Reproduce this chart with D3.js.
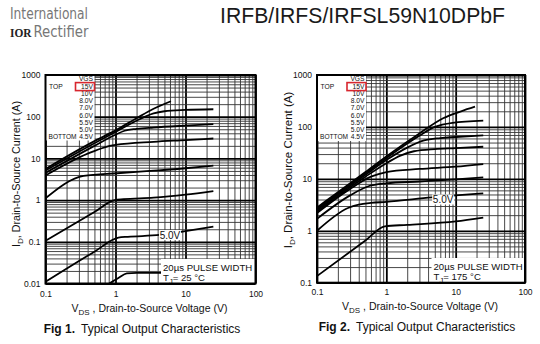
<!DOCTYPE html>
<html><head><meta charset="utf-8">
<script src="https://cdn.jsdelivr.net/npm/d3@7/dist/d3.min.js"></script>
<style>
html,body{margin:0;padding:0;background:#fff;}
svg{display:block;font-family:"Liberation Sans",Arial,sans-serif;}
</style></head><body>
<svg id="c" width="540" height="344"></svg>
<script>
// ---------- data ----------
const vgsLabels = ["15V","10V","8.0V","7.0V","6.0V","5.5V","5.0V","4.5V"];
const xTickValues = [0.1, 1, 10, 100];
const xTickLabels = ["0.1", "1", "10", "100"];
const fig1YTickValues = [0.01, 0.1, 1, 10, 100, 1000];
const fig1YTickLabels = ["0.01", "0.1", "1", "10", "100", "1000"];
const fig2YTickValues = [0.1, 1, 10, 100, 1000];
const fig2YTickLabels = ["0.1", "1", "10", "100", "1000"];

// Fig 1 (TJ = 25 °C): [VDS (V), ID (A)]
const fig1_15V = [[0.1,5.6],[0.5,26],[1,47],[2,92],[3.5,155],[6.2,235]];
const fig1_10V = [[0.1,5.1],[0.5,23],[1,43],[2,80],[3.5,120],[5,135],[10,145],[25,151]];
const fig1_8V  = [[0.1,4.5],[0.5,20],[1,37],[1.35,46],[2,51],[3.5,55],[10,61],[25,66]];
const fig1_7V  = [[0.1,3.9],[0.4,13],[0.7,18.5],[1,21],[3.5,25],[10,27.5],[25,30]];
const fig1_6V  = [[0.1,1.1],[0.35,3.8],[1.06,4.4],[3.1,5.0],[10,5.8],[25,6.7]];
const fig1_5V5 = [[0.1,0.106],[0.5,0.52],[0.97,1.0],[1.3,1.05],[3.5,1.14],[10,1.35],[25,1.65]];
const fig1_5V  = [[0.1,0.011],[0.5,0.058],[1.1,0.126],[1.5,0.132],[4.3,0.146],[10,0.18],[25,0.23]];
const fig1_4V5 = [[0.78,0.0095],[1.1,0.0135],[1.45,0.0175],[2,0.018],[4.6,0.018]];

// Fig 2 (TJ = 175 °C): [VDS (V), ID (A)]
const fig2_15V = [[0.1,2.8],[0.5,13.5],[1,27],[3,75],[6.6,147],[12,200],[19,245]];
const fig2_10V = [[0.1,2.65],[0.5,12.8],[1,25],[2,48],[3,68],[5,100],[9,120],[25,132]];
const fig2_8V  = [[0.1,2.5],[0.5,12],[1,23],[2,40],[3.5,55],[6,61],[10,64],[25,69]];
const fig2_7V  = [[0.1,2.35],[0.5,11],[1,20],[1.6,28],[2.5,34],[5,37.5],[10,39],[25,41.5]];
const fig2_6V  = [[0.1,2.2],[0.3,6.4],[0.6,11],[1,13.5],[3,15.5],[10,17.2],[25,19.3]];
const fig2_5V5 = [[0.1,1.7],[0.3,4.8],[0.55,7.2],[1,8.2],[3,8.9],[10,9.8],[25,10.7]];
const fig2_5V  = [[0.1,1.0],[0.28,2.75],[0.4,3.2],[0.6,3.45],[1,3.6],[4.5,4.4],[10,4.8],[25,5.25]];
const fig2_4V5 = [[0.1,0.134],[0.5,0.65],[0.95,1.22],[2,1.3],[10,1.52],[25,1.8]];

// ---------- drawing ----------
const svg = d3.select("#c");

function logGridValues(lo, hi) {
  const vals = [];
  const e0 = Math.round(Math.log10(lo)), e1 = Math.round(Math.log10(hi));
  for (let e = e0; e < e1; e++) for (let k = 1; k <= 9; k++) vals.push(k * Math.pow(10, e));
  vals.push(hi);
  return vals;
}
const isMajor = d => Math.abs(Math.log10(d) - Math.round(Math.log10(d))) < 1e-6;

function subText(sel, parts, subSize) {
  let shifted = false;
  parts.forEach(([t, sub]) => {
    const ts = sel.append("tspan").text(t);
    if (sub && !shifted) { ts.attr("dy", 3).attr("font-size", subSize); shifted = true; }
    else if (!sub && shifted) { ts.attr("dy", -3); shifted = false; }
  });
}

function drawChart(o) {
  const g = svg.append("g");
  const x = d3.scaleLog().domain([0.1, 100]).range([o.left, o.right]);
  const y = d3.scaleLog().domain([o.yMin, o.yMax]).range([o.bottom, o.top]);
  const W = o.right - o.left, H = o.bottom - o.top;

  const gx = g.append("g").attr("transform", `translate(0,${o.bottom})`)
    .call(d3.axisBottom(x).tickValues(logGridValues(0.1, 100)).tickSize(-H).tickFormat(""));
  gx.select(".domain").remove();
  gx.selectAll(".tick line").attr("stroke", d => isMajor(d) ? "#000" : "#333")
    .attr("stroke-width", d => isMajor(d) ? 1.8 : 0.9);
  const gy = g.append("g").attr("transform", `translate(${o.left},0)`)
    .call(d3.axisLeft(y).tickValues(logGridValues(o.yMin, o.yMax)).tickSize(-W).tickFormat(""));
  gy.select(".domain").remove();
  gy.selectAll(".tick line").attr("stroke", d => isMajor(d) ? "#000" : "#333")
    .attr("stroke-width", d => isMajor(d) ? 1.8 : 0.9);

  g.append("rect").attr("x", o.left).attr("y", o.top)
    .attr("width", o.legendRight + 1.5 - o.left).attr("height", o.legendBottom - o.top).attr("fill", "#fff");

  const clipId = "clip" + o.id;
  g.append("clipPath").attr("id", clipId).append("rect")
    .attr("x", o.left).attr("y", o.top).attr("width", W).attr("height", H);
  const line = d3.line().x(d => x(d[0])).y(d => y(d[1])).curve(d3.curveMonotoneX);
  g.append("g").attr("clip-path", `url(#${clipId})`)
    .selectAll("path").data(o.series).join("path")
    .attr("d", line).attr("fill", "none").attr("stroke", "#000")
    .attr("stroke-width", 1.8).attr("stroke-linejoin", "round");

  const lx = x(o.labelAt[0]), ly = y(o.labelAt[1]);
  g.append("rect").attr("x", lx - 11).attr("y", ly - 5).attr("width", 22).attr("height", 10).attr("fill", "#fff");
  g.append("text").attr("x", lx).attr("y", ly + 3.6).attr("text-anchor", "middle")
    .attr("font-size", 10).attr("fill", "#111").text(vgsLabels[6]);

  g.append("rect").attr("x", o.boxLeft).attr("y", o.boxTop)
    .attr("width", o.right - o.boxLeft).attr("height", o.bottom - o.boxTop).attr("fill", "#fff");
  g.append("text").attr("x", o.boxLeft + 2).attr("y", o.boxTop + 11.5).attr("font-size", 9.6)
    .attr("fill", "#111").text("20µs PULSE WIDTH");
  const tj = g.append("text").attr("x", o.boxLeft + 2).attr("y", o.boxTop + 21.5)
    .attr("font-size", 9.6).attr("fill", "#111");
  subText(tj, [["T", false], ["J", true], ["= " + o.tj + " °C", false]], 7.5);

  g.append("rect").attr("x", o.left).attr("y", o.top).attr("width", W).attr("height", H)
    .attr("fill", "none").attr("stroke", "#000").attr("stroke-width", 2);

  const rowH = 7.25, fs = 6.7;
  const lg = g.append("g").attr("font-size", fs).attr("fill", "#111");
  lg.append("text").attr("x", o.legendRight).attr("y", o.top + 6.3).attr("text-anchor", "end").text("VGS");
  vgsLabels.forEach((v, i) => {
    lg.append("text").attr("x", o.legendRight).attr("y", o.top + 6.3 + rowH * (i + 1))
      .attr("text-anchor", "end").text(v);
  });
  lg.append("text").attr("x", o.left + 3.5).attr("y", o.top + 6.3 + rowH).text("TOP");
  lg.append("text").attr("x", o.left + 3).attr("y", o.top + 6.3 + rowH * 8)
    .attr("textLength", 28).attr("lengthAdjust", "spacingAndGlyphs").text("BOTTOM");
  g.append("rect").attr("x", o.legendRight - 17.5).attr("y", o.top + 7.6)
    .attr("width", 19).attr("height", 8).attr("fill", "none").attr("stroke", "#d8262e").attr("stroke-width", 1.6);

  const ax = g.append("g").attr("transform", `translate(0,${o.bottom})`)
    .call(d3.axisBottom(x).tickValues(xTickValues).tickSize(0).tickPadding(o.xPad)
      .tickFormat((d, i) => xTickLabels[i]));
  ax.select(".domain").remove();
  ax.selectAll("text").attr("font-size", 8.5).attr("fill", "#111").attr("font-family", null);
  const ay = g.append("g").attr("transform", `translate(${o.left},0)`)
    .call(d3.axisLeft(y).tickValues(o.yTicks).tickSize(0).tickPadding(5)
      .tickFormat((d, i) => o.yLabels[i]));
  ay.select(".domain").remove();
  ay.selectAll("text").attr("font-size", 8.5).attr("fill", "#111").attr("font-family", null);

  const xt = g.append("text").attr("x", (o.left + o.right) / 2 - 1).attr("y", o.xTitleY)
    .attr("text-anchor", "middle").attr("font-size", 10.5).attr("fill", "#111");
  subText(xt, [["V", false], ["DS", true], [" , Drain-to-Source Voltage (V)", false]], 8);
  const yt = g.append("text").attr("transform", `translate(${o.yTitleX},${o.yTitleCY}) rotate(-90)`)
    .attr("text-anchor", "middle").attr("font-size", o.yTitleSize).attr("fill", "#111");
  subText(yt, [["I", false], ["D", true], [", Drain-to-Source Current (A)", false]], 8);

  const cap = g.append("text").attr("x", o.capX).attr("y", o.capY).attr("text-anchor", "middle")
    .attr("font-size", 12).attr("fill", "#111");
  cap.append("tspan").attr("font-weight", "bold").text("Fig " + o.id + ".");
  cap.append("tspan").attr("dx", 6).text("Typical Output Characteristics");
}

drawChart({
  id: 1, left: 45.5, right: 255.5, top: 75, bottom: 283.5, yMin: 0.01, yMax: 1000,
  yTicks: fig1YTickValues, yLabels: fig1YTickLabels,
  series: [fig1_15V, fig1_10V, fig1_8V, fig1_7V, fig1_6V, fig1_5V5, fig1_5V, fig1_4V5],
  labelAt: [6.0, 0.145], legendRight: 93, legendBottom: 140.5,
  boxLeft: 161, boxTop: 259, tj: "25", xPad: 7.5, xTitleY: 312, yTitleX: 19.5, yTitleCY: 174,
  yTitleSize: 10.7, capX: 142, capY: 332.5
});
drawChart({
  id: 2, left: 317, right: 525, top: 75, bottom: 282.7, yMin: 0.1, yMax: 1000,
  yTicks: fig2YTickValues, yLabels: fig2YTickLabels,
  series: [fig2_15V, fig2_10V, fig2_8V, fig2_7V, fig2_6V, fig2_5V5, fig2_5V, fig2_4V5],
  labelAt: [6.6, 4.0], legendRight: 364.5, legendBottom: 141,
  boxLeft: 431.5, boxTop: 258, tj: "175", xPad: 6.5, xTitleY: 309.5, yTitleX: 292, yTitleCY: 170,
  yTitleSize: 11.5, capX: 417, capY: 331
});

// header
svg.append("text").attr("x", 10).attr("y", 19).attr("font-size", 16)
  .attr("font-family", "'Liberation Sans Narrow','DejaVu Sans Condensed',sans-serif")
  .attr("fill", "#777").attr("textLength", 78).attr("lengthAdjust", "spacingAndGlyphs").text("International");
svg.append("text").attr("x", 10).attr("y", 36.7).attr("font-size", 11.5).attr("font-weight", "bold")
  .attr("font-family", "'Liberation Serif',serif").attr("fill", "#222")
  .attr("textLength", 21.5).attr("lengthAdjust", "spacingAndGlyphs").text("IOR");
svg.append("text").attr("x", 33.5).attr("y", 36.7).attr("font-size", 15)
  .attr("font-family", "'Liberation Sans Narrow','DejaVu Sans Condensed',sans-serif")
  .attr("fill", "#777").attr("textLength", 55).attr("lengthAdjust", "spacingAndGlyphs").text("Rectifier");
svg.append("text").attr("x", 220).attr("y", 23.3).attr("font-size", 21.5).attr("fill", "#1a1a1a")
  .attr("textLength", 285).attr("lengthAdjust", "spacingAndGlyphs").text("IRFB/IRFS/IRFSL59N10DPbF");
</script>
</body></html>
